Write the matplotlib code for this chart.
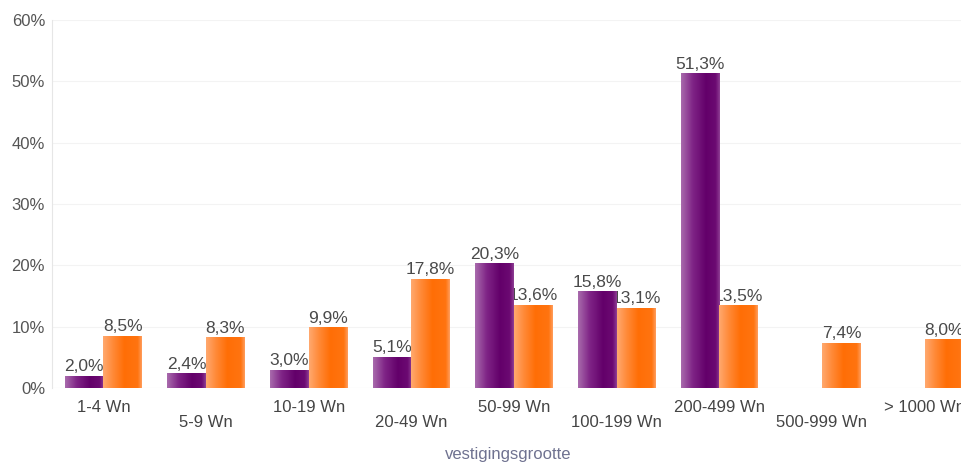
import matplotlib
matplotlib.use("Agg")
import matplotlib.pyplot as plt
import numpy as np
from matplotlib.colors import LinearSegmentedColormap
from matplotlib.patches import Rectangle

plt.rcParams["font.family"] = ["Liberation Sans", "DejaVu Sans"]

categories = ["1-4 Wn", "5-9 Wn", "10-19 Wn", "20-49 Wn", "50-99 Wn",
              "100-199 Wn", "200-499 Wn", "500-999 Wn", "> 1000 Wn"]
purple_values = [2.0, 2.4, 3.0, 5.1, 20.3, 15.8, 51.3, None, None]
orange_values = [8.5, 8.3, 9.9, 17.8, 13.6, 13.1, 13.5, 7.4, 8.0]
y_ticks = [0, 10, 20, 30, 40, 50, 60]

W, H = 961, 466
fig = plt.figure(figsize=(W / 100, H / 100), dpi=100)
fig.patch.set_facecolor("white")
ax = fig.add_axes([52 / W, 78 / H, 924 / W, 368 / H])

purple_cmap = LinearSegmentedColormap.from_list(
    "purple_bar",
    [(0.0, "#a86aac"), (0.3, "#7f2486"), (0.65, "#63006a"),
     (0.9, "#6c0a72"), (1.0, "#8d3c92")])
orange_cmap = LinearSegmentedColormap.from_list(
    "orange_bar",
    [(0.0, "#ffa86e"), (0.25, "#ff8a38"), (0.55, "#ff6e06"),
     (0.9, "#ff7410"), (1.0, "#ff9c5a")])

gradient = np.linspace(0, 1, 64).reshape(1, -1)
bar_w = 0.378


def gradient_bar(x_left, height, cmap):
    rect = Rectangle((x_left, 0), bar_w, height, facecolor="none",
                     edgecolor="none", zorder=3)
    ax.add_patch(rect)
    im = ax.imshow(gradient, cmap=cmap, aspect="auto",
                   extent=(x_left, x_left + bar_w, 0, height),
                   origin="lower", zorder=3, interpolation="bilinear")
    im.set_clip_path(rect)


def fmt(v):
    return f"{v:.1f}".replace(".", ",") + "%"


for i, (pv, ov) in enumerate(zip(purple_values, orange_values)):
    if pv is not None:
        gradient_bar(i - bar_w, pv, purple_cmap)
        ax.annotate(fmt(pv), (i - bar_w / 2, pv), xytext=(0, 1),
                    textcoords="offset points", ha="center", va="bottom",
                    fontsize=12.5, color="#4a4a4a", zorder=2)
    if ov is not None:
        gradient_bar(i, ov, orange_cmap)
        ax.annotate(fmt(ov), (i + bar_w / 2, ov), xytext=(0, 1),
                    textcoords="offset points", ha="center", va="bottom",
                    fontsize=12.5, color="#4a4a4a", zorder=2)

ax.set_xlim(-0.5, len(categories) - 0.5)
ax.set_ylim(0, 60)
ax.set_yticks(y_ticks)
ax.set_yticklabels([f"{t}%" for t in y_ticks], fontsize=12, color="#555555")
ax.tick_params(axis="y", length=0, pad=5)
ax.set_xticks([])
ax.grid(axis="y", color="#f3f3f3", linewidth=0.8, zorder=0)
ax.set_axisbelow(True)
for s in ["top", "right", "bottom"]:
    ax.spines[s].set_visible(False)
ax.spines["left"].set_color("#e6e6e6")
ax.axhline(0, color="#eeeeee", linewidth=0.8, zorder=1)

# staggered category labels
for i, cat in enumerate(categories):
    off = -14 if i % 2 == 0 else -24.5
    ax.annotate(cat, (i, 0), xycoords=("data", "data"), xytext=(0, off),
                textcoords="offset points", ha="center", va="center",
                fontsize=12, color="#444444", annotation_clip=False)

fig.text(508 / W, 1 - 455 / H, "vestigingsgrootte", ha="center", va="center",
         fontsize=12, color="#6f7290")

fig.savefig("out.png", dpi=100)
